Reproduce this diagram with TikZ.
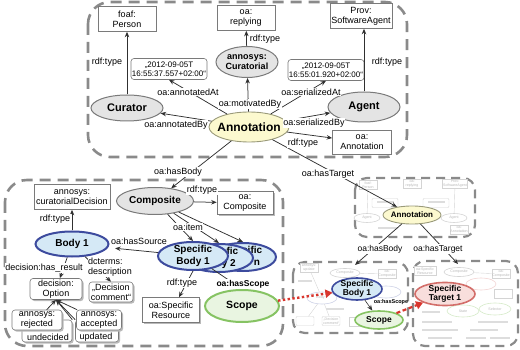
\documentclass[tikz,border=0pt]{standalone}
\usepackage{fontspec}
\setmainfont{Liberation Sans}
\usetikzlibrary{arrows.meta,shapes.geometric,shadows,calc}
\definecolor{edgec}{HTML}{303030}
\definecolor{boxc}{HTML}{8A8A8A}
\definecolor{grayfill}{HTML}{E4E4E4}
\definecolor{grayline}{HTML}{7A7A7A}
\definecolor{yelfill}{HTML}{FCF9CF}
\definecolor{yelline}{HTML}{9A9A7A}
\definecolor{bluefill}{HTML}{D5E9F6}
\definecolor{blueline}{HTML}{3D4B9E}
\definecolor{greenfill}{HTML}{E9F5E1}
\definecolor{greenline}{HTML}{86C363}
\definecolor{redfill}{HTML}{F8DEDC}
\definecolor{redline}{HTML}{D36E6A}
\definecolor{redarr}{HTML}{D8362E}
\definecolor{faint}{HTML}{D4D4D4}
\definecolor{fainttext}{HTML}{B8B8B8}
\newcommand\fsz[2]{\fontsize{#1}{#2}\selectfont}
\newcommand\EN[8][]{%
  \node[#2, minimum width=#6pt, minimum height=#7pt] (#3) at (#4,#5) {};
  \node[etxt,#1] (#3t) at (#3) {#8};}
\tikzset{
  grp/.style={draw=boxc, line width=2.6pt, dash pattern=on 11pt off 7pt, rounded corners=22pt},
  tgrp/.style={draw=boxc, line width=2.2pt, dash pattern=on 9pt off 6pt, rounded corners=12pt},
  arr/.style={draw=edgec, line width=0.75pt, -{Stealth[length=5.5pt,width=4.5pt]}},
  cls/.style={draw=grayline, fill=white, line width=0.6pt, align=center, inner sep=1pt, font=\fsz{9}{10}},
  shd/.style={general shadow={fill=gray!55, shadow xshift=1.6pt, shadow yshift=-1.6pt}},
  lit/.style={cls, rounded corners=3pt},
  eshape/.style={ellipse, inner sep=0pt},
  gell/.style={eshape, fill=grayfill, draw=grayline, line width=1pt},
  yell/.style={eshape, fill=yelfill, draw=yelline, line width=0.9pt},
  bell/.style={eshape, fill=bluefill, draw=blueline, line width=2pt},
  grell/.style={eshape, fill=greenfill, draw=greenline, line width=2pt},
  rell/.style={eshape, fill=redfill, draw=redline, line width=2pt},
  etxt/.style={align=center, inner sep=0pt, font=\bfseries\fsz{10}{11.5}},
  lbl/.style={fill=white, inner sep=0.6pt, font=\fsz{9}{10}},
  btxt/.style={inner sep=0pt, font=\fsz{9}{10}},
  faintR/.style={draw=faint, fill=white, line width=0.4pt, inner sep=0.5pt, align=center, font=\fsz{3.6}{4}, text=fainttext, minimum width=18pt, minimum height=9pt},
  faintE/.style={ellipse, draw=faint, fill=white, line width=0.6pt, inner sep=0pt, font=\fsz{3.6}{4}, text=fainttext, minimum width=26pt, minimum height=9pt},
  faintL/.style={draw=faint, line width=0.4pt},
  smudge/.style={draw=faint!80, line width=1.2pt},
  reddot/.style={draw=redarr, line width=2.4pt, dash pattern=on 2.4pt off 2.4pt, -{Triangle[length=7pt,width=8pt]}},
  reddash/.style={draw=redarr, line width=2.2pt, dash pattern=on 4pt off 2.5pt, -{Triangle[length=7pt,width=8pt]}},
}
\begin{document}
\begin{tikzpicture}[x=1pt,y=-1pt]
\useasboundingbox (0,0) rectangle (520,350);

% group frames
\draw[grp] (88,2) rectangle (407,157);
\draw[grp] (5,180) rectangle (283,346);
\draw[tgrp] (355,178) rectangle (475,237);
\draw[tgrp] (293,262) rectangle (408,333);
\draw[tgrp] (413,261) rectangle (518,346);

% ---- faint thumbnail content: top right
\node[faintR] (fa1) at (368,185) {foaf:\\Person};
\node[faintR] (fa2) at (412,184) {oa:\\replying};
\node[faintR, minimum width=22pt] (fa3) at (455,184) {Prov:\\SoftwareAgent};
\node[faintR, rounded corners=1pt, minimum width=26pt] (fa4) at (385,203) {};
\node[faintR, rounded corners=1pt, minimum width=26pt] (fa5) at (436,203) {};
\node[faintE] (fa6) at (367,218) {Agent};
\node[faintE] (fa7) at (454,218) {Agent};
\node[faintR] (fa8) at (459,230) {oa:\\Annotation};
\draw[faintL] (fa6) -- (fa1);
\draw[faintL] (fa7) -- (fa3);
\draw[smudge] (377,202) -- (394,202);
\draw[smudge] (428,202) -- (445,202);
\draw[smudge] (378,228) -- (398,228);

% ---- faint thumbnail content: bottom middle
\node[faintR] (fb1) at (309,268) {annosys:\\update};
\node[faintE, minimum width=30pt] (fb2) at (345,273) {Composite};
\node[faintR] (fb3) at (387,274) {oa:\\Composite};
\node[faintE, draw=blueline!25, minimum width=30pt, minimum height=12pt] (fb4) at (322,298) {Body 1};
\node[faintE, draw=blueline!25, minimum width=30pt, minimum height=12pt] (fb5) at (386,292) {};
\node[faintR, rounded corners=1pt] (fb6) at (305,321) {};
\node[faintR, rounded corners=1pt] (fb7) at (331,321) {„Decision\\comment“};
\node[faintR] (fb8) at (358,322) {};
\draw[faintL] (fb2) -- (fb3);
\draw[faintL] (fb4) -- (fb1);
\draw[faintL] (fb4) -- (fb6);
\draw[faintL] (fb4) -- (fb7);
\draw[smudge] (298,281) -- (312,281);
\draw[smudge] (326,309) -- (344,309);

% ---- faint thumbnail content: bottom right
\node[faintR, minimum width=22pt] (fc1) at (425,271) {oa:Specific\\Resource};
\node[faintE, minimum width=30pt] (fc2) at (459,272) {Composite};
\node[faintR] (fc3) at (501,274) {oa:\\Composite};
\node[faintE, draw=redline!30, minimum width=30pt, minimum height=12pt] (fc4) at (481,284) {};
\node[faintR] (fc5) at (503,294) {};
\node[faintE, draw=greenline!35, minimum width=32pt, minimum height=12pt] (fc6) at (463,311) {State};
\node[faintE, draw=greenline!35, minimum width=32pt, minimum height=12pt] (fc7) at (495,309) {Selector};
\draw[faintL] (fc2) -- (fc3);
\draw[faintL] (fc6) -- (fc7);
\draw[smudge] (422,312) -- (440,312);
\draw[smudge] (422,322) -- (452,322);
\draw[smudge] (422,330) -- (458,330);
\draw[smudge] (428,338) -- (452,338);
\draw[smudge] (478,322) -- (508,322);
\draw[smudge] (470,330) -- (498,330);
\draw[smudge] (466,338) -- (486,338);
\draw[smudge] (490,338) -- (510,338);

% ---- top group nodes
\node[cls, minimum width=58pt, minimum height=25pt] (person) at (127,19) {foaf:\\Person};
\node[cls, minimum width=58pt, minimum height=25pt] (reply) at (246,18) {oa:\\replying};
\node[cls, minimum width=62pt, minimum height=25pt] (swa) at (361,16) {Prov:\\SoftwareAgent};
\node[lit, minimum width=75pt, minimum height=21pt, font=\fsz{8}{9}] (date1) at (169,69) {„2012-09-05T\\16:55:37.557+02:00“};
\node[lit, minimum width=75pt, minimum height=21pt, font=\fsz{8}{9}] (date2) at (326,70) {„2012-09-05T\\16:55:01.920+02:00“};
\node[cls, minimum width=59pt, minimum height=24pt] (oaann) at (362,142) {oa:\\Annotation};
\EN[font=\bfseries\fsz{9}{10.5}]{gell}{cural}{247}{62}{62}{31}{annosys:\\Curatorial}
\EN[font=\bfseries\fsz{11}{12}]{gell}{cur}{127}{108}{72}{26}{Curator}
\EN[font=\bfseries\fsz{11}{12}]{gell}{agent}{364}{107}{72}{30}{Agent}
\EN[font=\bfseries\fsz{12}{13}]{yell}{ann}{249}{127}{80}{30}{Annotation}

% ---- bottom-left group nodes
\node[cls, minimum width=76pt, minimum height=25pt] (cdec) at (72,197) {annosys:\\curatorialDecision};
\EN{gell}{comp}{155}{201}{77}{27}{Composite}
\node[cls, shd, minimum width=56pt, minimum height=23pt] (oacomp) at (245,203) {oa:\\Composite};
\EN{bell}{sbn}{243}{257}{66}{28}{\phantom{Spe}cific\\\phantom{Body }n}
\EN{bell}{sb2}{219}{258}{68}{28}{\phantom{Speci}fic\\\phantom{Bod}y 2}
\EN{bell}{sb1}{193}{256}{70}{28}{Specific\\Body 1}
\EN{bell}{body1}{72}{244}{73}{25}{Body 1}
\node[lit, shd, minimum width=52pt, minimum height=21pt] (opt) at (56,289) {decision:\\Option};
\node[lit, shd, minimum width=44pt, minimum height=20pt] (comm) at (111,292) {„Decision\\comment“};
\node[lit, shd, minimum width=50pt, minimum height=22pt] (und) at (47,331) {};
\node[btxt] (undt) at (48,337.5) {undecided};
\node[lit, shd, minimum width=43pt, minimum height=22pt] (upd) at (97,331) {};
\node[btxt] (updt) at (96,337.5) {updated};
\node[lit, shd, minimum width=50pt, minimum height=20pt] (rej) at (37,320) {annosys:\\rejected};
\node[lit, shd, minimum width=45pt, minimum height=20pt] (acc) at (99,320) {annosys:\\accepted};
\node[cls, shd, minimum width=57pt, minimum height=25pt] (sres) at (171,310) {oa:Specific\\Resource};
\EN[font=\bfseries\fsz{10.5}{12}]{grell}{scope}{242}{306}{74}{32}{Scope}

% ---- thumbnail main nodes
\EN[font=\bfseries\fsz{8}{9}]{yell}{sann}{412}{215}{58}{18}{Annotation}
\EN[font=\bfseries\fsz{8.5}{9.5}]{bell, line width=1.6pt}{tsb1}{357}{289}{50}{22}{Specific\\Body 1}
\EN[font=\bfseries\fsz{8.5}{9.5}]{grell, line width=1.6pt}{tscope}{379}{320}{48}{18}{Scope}
\EN[font=\bfseries\fsz{8.5}{9.5}]{rell, line width=1.6pt}{tst1}{445}{294}{60}{23}{Specific\\Target 1}
\coordinate (tb) at (355,265);
\coordinate (tt) at (458,264);

% ---- edges: top group
\draw[arr] (cur) -- (person);
\draw[arr] (ann) -- (cur);
\draw[arr] (ann) -- (date1.south);
\draw[arr] (ann) -- (cural);
\draw[arr] (cural) -- (reply);
\draw[arr] (ann) -- (date2.south);
\draw[arr] (ann) -- (agent);
\draw[arr] (agent) -- (agent |- swa.south);
\draw[arr] (ann) -- (oaann);
\draw[arr] (ann) -- (comp);
\draw[arr] (ann) -- (sann);

% ---- edges: bottom-left group
\draw[arr] (body1) -- (cdec);
\draw[arr] (comp) -- (oacomp);
\draw[arr] (comp) -- (sb1.north);
\draw[arr] (comp) -- (sb2.north);
\draw[arr] (comp) -- (sbn.north);
\draw[arr, shorten >=7pt] (sb1) -- (body1);
\draw[arr] (body1) -- (opt);
\draw[arr] (body1) -- (comm.north);
\draw[arr] (rej) -- (opt.south);
\draw[arr] (und.north east) -- (opt.south);
\draw[arr] (acc) -- (opt.south);
\draw[arr] (upd.north west) -- (opt.south);
\draw[arr] (sb1.south) -- ($(sres.north)+(8,0)$);
\draw[arr] (sb1) -- (scope.north);
\draw[reddot] (scope) -- (tsb1);

% ---- edges: thumbnails
\draw[arr] (sann) -- (tb);
\draw[arr] (sann) -- (tt);
\draw[arr, line width=0.6pt] (tsb1) -- (tscope);
\draw[reddash] (tscope) -- (tst1);

% ---- edge labels
\node[lbl] (l1) at (107,62) {rdf:type};
\node[lbl] (l2) at (188,92) {oa:annotatedAt};
\node[lbl] (l3) at (176,125) {oa:annotatedBy};
\node[lbl] (l4) at (250,104) {oa:motivatedBy};
\node[lbl] (l5) at (265,39) {rdf:type};
\node[lbl] (l6) at (311,92) {oa:serializedAt};
\node[lbl] (l7) at (314,123) {oa:serializedBy};
\node[lbl] (l8) at (387,62) {rdf:type};
\node[lbl] (l9) at (303,143) {rdf:type};
\node[lbl] (l10) at (178,172) {oa:hasBody};
\node[lbl] (l11) at (328,174) {oa:hasTarget};
\node[lbl] (l12) at (55,219) {rdf:type};
\node[lbl] (l13) at (202,190) {rdf:type};
\node[lbl] (l14) at (188,227) {oa:item};
\node[lbl] (l15) at (139,241) {oa:hasSource};
\node[lbl] (l16) at (44,268) {decision:has\_result};
\node[lbl, align=left] (l17) at (110,267) {dcterms:\\description};
\node[lbl] (l18) at (182,283) {rdf:type};
\node[lbl, font=\bfseries\fsz{8.5}{9.5}] (l19) at (243,284) {oa:hasScope};
\node[lbl, font=\fsz{8.5}{9.5}] (l20) at (380,249) {oa:hasBody};
\node[lbl, font=\fsz{8.5}{9.5}] (l21) at (438,249) {oa:hasTarget};
\node[lbl, font=\bfseries\fsz{5.5}{6}, fill=none] (l22) at (391,302) {oa:hasScope};
\end{tikzpicture}
\end{document}
